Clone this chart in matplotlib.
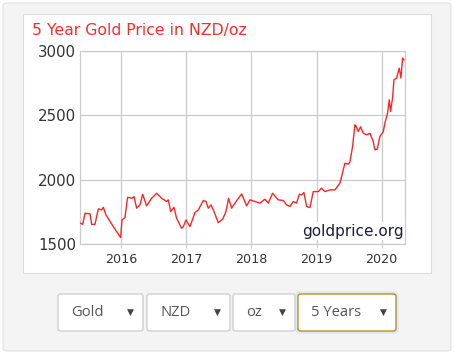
import numpy as np
import matplotlib
matplotlib.use("Agg")
import matplotlib.pyplot as plt
from matplotlib.patches import FancyBboxPatch, Rectangle

# gold price NZD/oz (decimal year, price)
years = [2015.375, 2015.406, 2015.442, 2015.519, 2015.544, 2015.595, 2015.647, 2015.698,
         2015.723, 2015.764, 2015.877, 2015.990, 2016.010, 2016.056, 2016.097, 2016.159,
         2016.195, 2016.236, 2016.287, 2016.328, 2016.389, 2016.466, 2016.543, 2016.620,
         2016.697, 2016.722, 2016.758, 2016.809, 2016.850, 2016.927, 2016.953, 2016.994,
         2017.055, 2017.132, 2017.183, 2017.260, 2017.301, 2017.337, 2017.378, 2017.414,
         2017.490, 2017.557, 2017.608, 2017.649, 2017.695, 2017.782, 2017.849, 2017.926,
         2017.977, 2018.054, 2018.131, 2018.207, 2018.259, 2018.325, 2018.412, 2018.489,
         2018.540, 2018.592, 2018.643, 2018.694, 2018.735, 2018.771, 2018.807, 2018.848,
         2018.899, 2018.950, 2019.027, 2019.078, 2019.129, 2019.206, 2019.283, 2019.360,
         2019.411, 2019.437, 2019.488, 2019.513, 2019.554, 2019.590, 2019.606, 2019.641,
         2019.677, 2019.718, 2019.770, 2019.821, 2019.872, 2019.898, 2019.933, 2019.974,
         2020.026, 2020.051, 2020.092, 2020.118, 2020.138, 2020.169, 2020.190, 2020.231,
         2020.271, 2020.297, 2020.323, 2020.343]
prices = [1663, 1655, 1741, 1736, 1655, 1655, 1775, 1767,
          1787, 1728, 1637, 1552, 1689, 1707, 1865, 1857,
          1870, 1780, 1806, 1888, 1798, 1857, 1896, 1857,
          1832, 1845, 1754, 1787, 1702, 1624, 1637, 1689,
          1637, 1746, 1767, 1840, 1832, 1780, 1806, 1767,
          1668, 1694, 1754, 1857, 1780, 1845, 1891, 1798,
          1845, 1832, 1819, 1850, 1819, 1896, 1845, 1840,
          1806, 1793, 1832, 1819, 1888, 1883, 1901, 1793,
          1785, 1909, 1909, 1935, 1909, 1922, 1922, 1974,
          2078, 2129, 2122, 2137, 2259, 2427, 2419, 2375,
          2412, 2362, 2349, 2362, 2297, 2233, 2238, 2336,
          2375, 2440, 2518, 2621, 2530, 2635, 2777, 2790,
          2867, 2790, 2945, 2930]

xticks = [2016, 2017, 2018, 2019, 2020]
yticks = [1500, 2000, 2500, 3000]
title = "5 Year Gold Price in NZD/oz"
selects = ["Gold", "NZD", "oz", "5 Years"]

W, H = 454, 354

def fx(x):
    return x / W

def fy(y):
    return 1 - y / H

fig = plt.figure(figsize=(W / 100, H / 100), dpi=100)
fig.patch.set_facecolor("white")

# grey outer panel and white chart card
fig.patches.append(FancyBboxPatch((fx(3), fy(351)), fx(448), 348 / H,
                                  boxstyle="round,pad=0,rounding_size=0.008",
                                  transform=fig.transFigure, facecolor="#f4f4f4",
                                  edgecolor="#e2e2e2", linewidth=0.8, zorder=0))
fig.patches.append(Rectangle((fx(23), fy(273)), fx(408), 259 / H,
                             transform=fig.transFigure, facecolor="white",
                             edgecolor="#dcdcdc", linewidth=0.8, zorder=1))

fig.text(fx(32), fy(30), title, color="#ff2a2a", fontsize=11.3,
         family="DejaVu Sans", ha="left", va="center")

ax = fig.add_axes([fx(80), fy(244.3), fx(325), (244.3 - 51) / H])
ax.set_zorder(5)
ax.set_facecolor("white")
ax.plot(years, prices, color="#ff2424", linewidth=1.0, zorder=3)
ax.set_xlim(2015.365, 2020.36)
ax.set_ylim(1500, 3000)
ax.set_xticks(xticks)
ax.set_yticks(yticks)
ax.set_xticklabels([str(t) for t in xticks], fontsize=9.2, color="#333333")
ax.set_yticklabels([str(t) for t in yticks], fontsize=10.8, color="#333333")
ax.tick_params(axis="x", length=3, color="#cccccc", pad=3)
ax.tick_params(axis="y", length=0, pad=3)
ax.grid(True, color="#cccccc", linewidth=0.9, zorder=1)
for s in ax.spines.values():
    s.set_color("#cccccc")
    s.set_linewidth(0.9)

ax.text(0.995, 0.03, "goldprice.org", transform=ax.transAxes, ha="right",
        va="bottom", fontsize=11, color="#1c1c3c", zorder=5,
        bbox=dict(facecolor="white", edgecolor="none", pad=1))

# dropdown selectors under the chart
boxes = [(58, 143), (147, 230), (233, 295), (298, 396)]
for i, (label, (x0, x1)) in enumerate(zip(selects, boxes)):
    edge = "#b8860b" if i == 3 else "#cccccc"
    if i == 3:
        fig.patches.append(FancyBboxPatch((fx(x0), fy(331)), fx(x1 - x0), 37 / H,
                                          boxstyle="round,pad=0,rounding_size=0.006",
                                          transform=fig.transFigure, facecolor="none",
                                          edgecolor="#d8e9f7", linewidth=4, zorder=2))
    fig.patches.append(FancyBboxPatch((fx(x0), fy(331)), fx(x1 - x0), 37 / H,
                                      boxstyle="round,pad=0,rounding_size=0.006",
                                      transform=fig.transFigure, facecolor="white",
                                      edgecolor=edge, linewidth=0.9, zorder=3))
    fig.text(fx(x0 + 13), fy(313), label, fontsize=10.6, family="Open Sans",
             color="#555555", ha="left", va="center", zorder=4)
    fig.text(fx(x1 - 13), fy(312), "\u25BC", fontsize=6.5, family="DejaVu Sans",
             color="#444444", ha="center", va="center", zorder=4)

fig.savefig("out.png", dpi=100)
